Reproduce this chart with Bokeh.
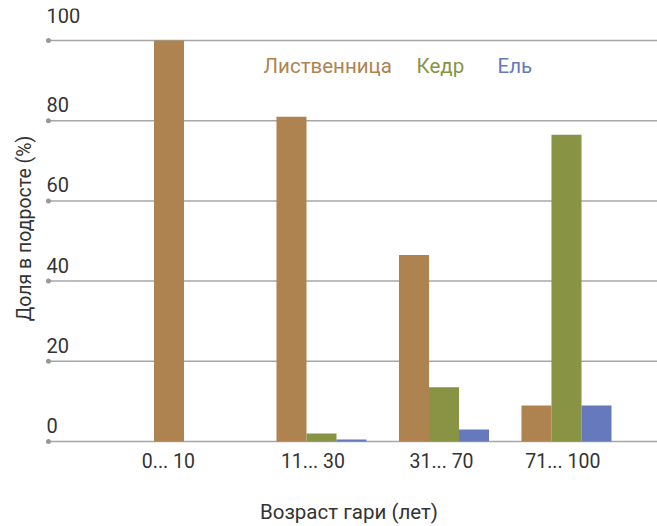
from bokeh.plotting import figure
from bokeh.models import ColumnDataSource, FixedTicker, Range1d
from bokeh.core.properties import value
from bokeh.transform import dodge
from bokeh.embed import file_html
from bokeh.resources import INLINE

# --- data -------------------------------------------------------------
age_groups = ["0... 10", "11... 30", "31... 70", "71... 100"]
species = ["Лиственница", "Кедр", "Ель"]
larch = [100, 81, 46.5, 9]      # Лиственница, %
cedar = [0, 2, 13.5, 76.5]      # Кедр, %
spruce = [0, 0.5, 3, 9]         # Ель, %
y_ticks = [0, 20, 40, 60, 80, 100]

# --- style ------------------------------------------------------------
colors = ["#AF834F", "#889443", "#6679BC"]
FONT = "Roboto"
TEXT = "#333333"
GRID = "#A6A6A6"

X_START, X_END = -1.294, 3.743
Y_START, Y_END = -1.746, 107.98
BAR_W = 0.245                      # bar width in group units
GRID_X0 = -1.229                   # left end of the horizontal rules
label_shift = [-0.25, -0.07, -0.02, -0.03]   # tick label nudges per group
tick_label_dy = [-16, -16, -16, -16, -16, -25]  # px lift of each value label
legend_x = [0.527, 1.776, 2.437]
legend_y = 93.6

group_x = list(range(len(age_groups)))
source = ColumnDataSource(dict(x=group_x, larch=larch, cedar=cedar, spruce=spruce))

p = figure(frame_width=617, frame_height=440,
           x_range=Range1d(X_START, X_END), y_range=Range1d(Y_START, Y_END),
           min_border_left=40, min_border_right=0,
           min_border_top=8, min_border_bottom=78,
           toolbar_location=None, output_backend="svg",
           outline_line_color=None, background_fill_color="white")
p.grid.visible = False

# horizontal rules with a dot at their left end
n = len(y_ticks)
p.segment(x0=[GRID_X0] * n, y0=y_ticks, x1=[X_END] * n, y1=y_ticks,
          line_color=GRID, line_width=1.5)
p.scatter(x=[GRID_X0] * n, y=y_ticks, size=5,
          fill_color="#999999", line_color=None)

# value labels sit above each rule
tick_src = ColumnDataSource(dict(x=[GRID_X0] * n, y=y_ticks,
                                 text=[str(t) for t in y_ticks], dy=tick_label_dy))
p.text(x="x", y="y", text="text", y_offset="dy", x_offset=-2, source=tick_src,
       text_align="left", text_baseline="alphabetic",
       text_font=value(FONT), text_font_size="20px", text_color=TEXT)

# grouped bars
for field, off, col in zip(["larch", "cedar", "spruce"], [-BAR_W, 0, BAR_W], colors):
    p.vbar(x=dodge("x", off, range=p.x_range), top=field, width=BAR_W,
           source=source, fill_color=col, line_color=None)

# coloured legend captions
p.text(x=legend_x, y=[legend_y] * 3, text=species, text_color=colors,
       text_align="left", text_baseline="alphabetic",
       text_font=value(FONT), text_font_size="20.5px")

# x axis: age class labels
tick_pos = [g + s for g, s in zip(group_x, label_shift)]
p.xaxis.ticker = FixedTicker(ticks=tick_pos)
p.xaxis.major_label_overrides = {t: lab for t, lab in zip(tick_pos, age_groups)}
p.xaxis.axis_line_color = None
p.xaxis.major_tick_line_color = None
p.xaxis.minor_tick_line_color = None
p.xaxis.major_tick_out = 0
p.xaxis.major_label_standoff = 1
p.xaxis.major_label_text_font = FONT
p.xaxis.major_label_text_font_size = "19.5px"
p.xaxis.major_label_text_color = TEXT
p.xaxis.axis_label = "Возраст гари (лет)"
p.xaxis.axis_label_standoff = 24
p.xaxis.axis_label_text_font = FONT
p.xaxis.axis_label_text_font_size = "20.5px"
p.xaxis.axis_label_text_font_style = "normal"
p.xaxis.axis_label_text_color = TEXT

# y axis carries only its title
p.yaxis.ticker = FixedTicker(ticks=[])
p.yaxis.axis_line_color = None
p.yaxis.major_tick_line_color = None
p.yaxis.minor_tick_line_color = None
p.yaxis.major_tick_out = 0
p.yaxis.axis_label = "Доля в подросте (%)"
p.yaxis.axis_label_standoff = 5
p.yaxis.axis_label_text_font = FONT
p.yaxis.axis_label_text_font_size = "19.5px"
p.yaxis.axis_label_text_font_style = "normal"
p.yaxis.axis_label_text_color = TEXT

open("out.html", "w").write(file_html(p, INLINE))
